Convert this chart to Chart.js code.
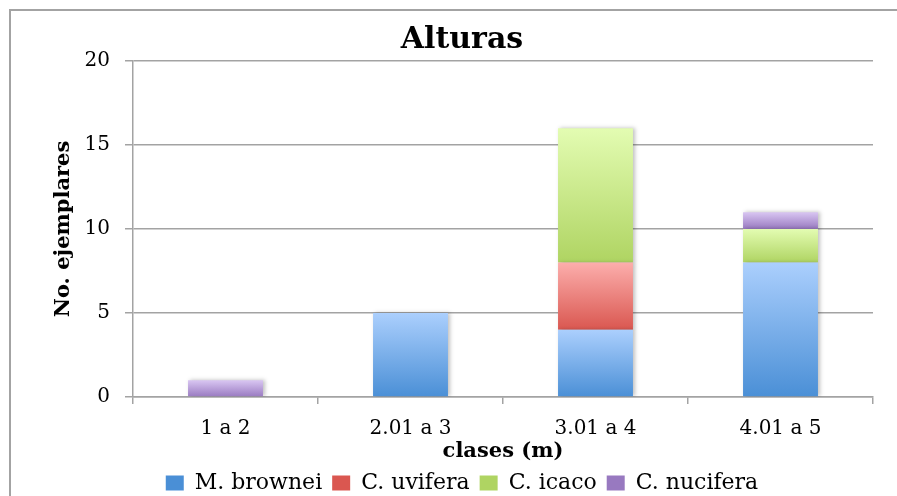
<!DOCTYPE html>
<html>
<head>
<meta charset="utf-8">
<script src="https://cdn.jsdelivr.net/npm/chart.js@4"></script>
<style>
  html, body { margin: 0; padding: 0; background: #fff; }
  #wrap { width: 897px; height: 496px; }
</style>
</head>
<body>
<div id="wrap"><canvas id="chart" width="897" height="496"></canvas></div>
<script>
// ── Data ─────────────────────────────────────────────────────────
const categories = ['1 a 2', '2.01 a 3', '3.01 a 4', '4.01 a 5'];
const mBrownei  = [0, 5, 4, 8];
const cUvifera  = [0, 0, 4, 0];
const cIcaco    = [0, 0, 8, 2];
const cNucifera = [1, 0, 0, 1];
const seriesNames = ['M. brownei', 'C. uvifera', 'C. icaco', 'C. nucifera'];
const seriesValues = [mBrownei, cUvifera, cIcaco, cNucifera];
const yMin = 0, yMax = 20, yStep = 5;

// top / bottom gradient colours per series, plus a legend swatch colour
const palette = [
    { top: '#abcffd', bottom: '#4a8fd6', legend: '#7cb0ec' },
    { top: '#fcaeac', bottom: '#da5750', legend: '#ee8580' },
    { top: '#e3fcb2', bottom: '#afd462', legend: '#cbe88a' },
    { top: '#d9c6f2', bottom: '#9879c0', legend: '#b9a0dc' },
];

const FONT = "'DejaVu Serif', 'Liberation Serif', serif";
const GRID = '#a3a3a3';

// ── Per-segment vertical gradient (light top, darker base) ───────
function segmentFill(d) {
    const c = palette[d];
    return (ctx) => {
        if (ctx.type !== 'data') return c.legend;
        const y = ctx.chart.scales.y;
        if (!y) return c.bottom;
        let start = 0;
        for (let k = 0; k < d; k++) start += seriesValues[k][ctx.index];
        const end = start + seriesValues[d][ctx.index];
        const y0 = y.getPixelForValue(end);
        const y1 = y.getPixelForValue(start);
        if (!isFinite(y0) || !isFinite(y1) || y0 === y1) return c.bottom;
        const g = ctx.chart.ctx.createLinearGradient(0, y0, 0, y1);
        g.addColorStop(0, c.top);
        g.addColorStop(1, c.bottom);
        return g;
    };
}

// ── Plugins ──────────────────────────────────────────────────────
const framePlugin = {
    id: 'frame',
    beforeDraw(chart) {
        const ctx = chart.ctx;
        ctx.save();
        ctx.strokeStyle = GRID;
        ctx.lineWidth = 2;
        ctx.beginPath();
        ctx.moveTo(10, chart.height);
        ctx.lineTo(10, 10);
        ctx.lineTo(chart.width, 10);
        ctx.stroke();
        ctx.restore();
    },
};

const shadowPlugin = {
    id: 'barShadow',
    beforeDatasetsDraw(chart) {
        const ctx = chart.ctx;
        ctx.save();
        ctx.shadowColor = 'rgba(0,0,0,0.25)';
        ctx.shadowBlur = 4;
        ctx.shadowOffsetX = 2;
        ctx.shadowOffsetY = 0;
    },
    afterDatasetsDraw(chart) {
        chart.ctx.restore();
    },
};

// ── Chart ────────────────────────────────────────────────────────
new Chart(document.getElementById('chart'), {
    type: 'bar',
    plugins: [framePlugin, shadowPlugin],
    data: {
        labels: categories,
        datasets: seriesNames.map((name, d) => ({
            label: name,
            data: seriesValues[d],
            backgroundColor: segmentFill(d),
            borderWidth: 0,
            categoryPercentage: 1,
            barPercentage: 0.405,
        })),
    },
    options: {
        responsive: false,
        animation: false,
        devicePixelRatio: 1,
        layout: { padding: { left: 51, right: 24, top: 0, bottom: -8 } },
        plugins: {
            title: {
                display: true,
                text: 'Alturas',
                color: '#000',
                font: { family: FONT, size: 30, weight: 'bold' },
                padding: { top: 22, bottom: 3 },
            },
            legend: {
                display: true,
                position: 'bottom',
                labels: {
                    color: '#000',
                    font: { family: FONT, size: 22 },
                    boxWidth: 18,
                    boxHeight: 15,
                    padding: 10,
                },
            },
            tooltip: { enabled: false },
        },
        scales: {
            x: {
                stacked: true,
                afterFit: (s) => { s.height = 65; },
                grid: {
                    drawOnChartArea: false,
                    drawTicks: true,
                    tickLength: 7,
                    color: GRID,
                    lineWidth: 1.5,
                },
                border: { display: true, color: GRID, width: 1.5 },
                ticks: {
                    color: '#000',
                    font: { family: FONT, size: 20 },
                    padding: 13,
                    maxRotation: 0,
                },
                title: {
                    display: true,
                    text: 'clases (m)',
                    color: '#000',
                    font: { family: FONT, size: 21, weight: 'bold' },
                    padding: { top: 0, bottom: -2 },
                },
            },
            y: {
                stacked: true,
                min: yMin,
                max: yMax,
                afterFit: (s) => { s.width = 82; },
                grid: {
                    color: GRID,
                    lineWidth: 1.5,
                    tickLength: 8,
                },
                border: { display: true, color: GRID, width: 1.5 },
                ticks: {
                    stepSize: yStep,
                    color: '#000',
                    font: { family: FONT, size: 20 },
                    padding: 15,
                },
                title: {
                    display: true,
                    text: 'No. ejemplares',
                    color: '#000',
                    font: { family: FONT, size: 21, weight: 'bold' },
                    padding: { top: 0, bottom: 0 },
                },
            },
        },
    },
});
</script>
</body>
</html>
